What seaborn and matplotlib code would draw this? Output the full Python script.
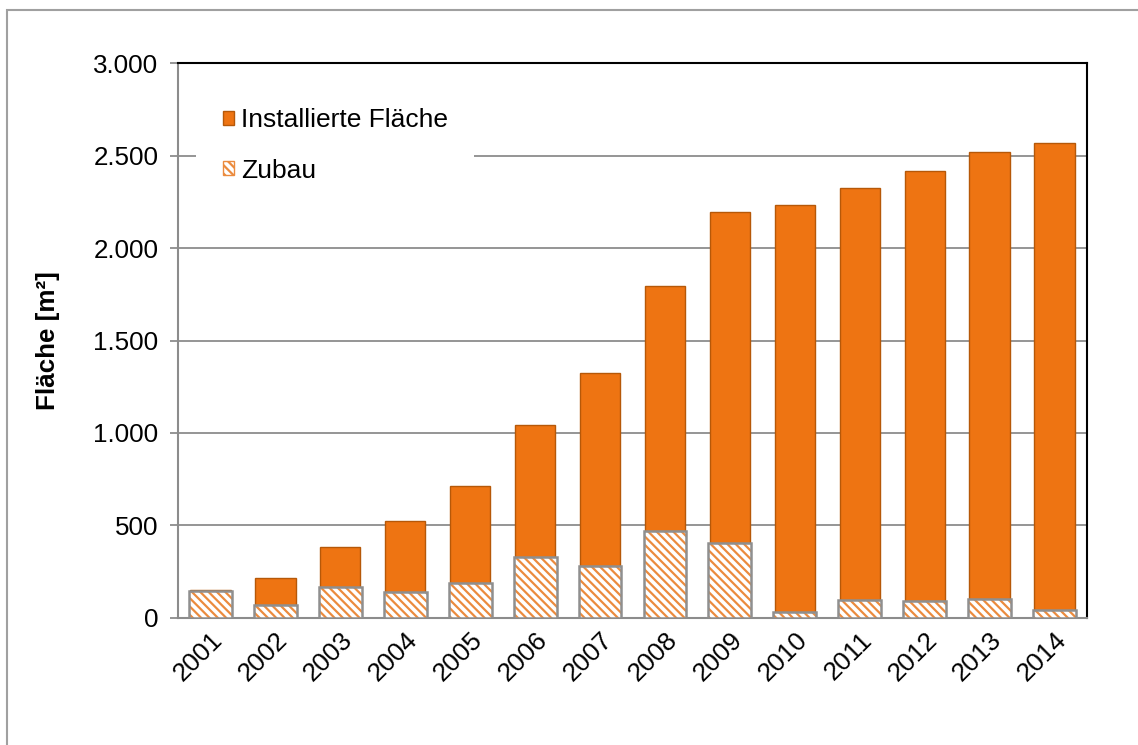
import numpy as np
import pandas as pd
import seaborn as sns
import matplotlib
import matplotlib.pyplot as plt
from matplotlib.patches import Patch, Rectangle
from matplotlib.ticker import FuncFormatter, MultipleLocator

# data
jahre = ['2001', '2002', '2003', '2004', '2005', '2006', '2007',
         '2008', '2009', '2010', '2011', '2012', '2013', '2014']
installiert = [150, 215, 383, 525, 715, 1045, 1325,
               1795, 2195, 2230, 2325, 2415, 2520, 2565]
zubau = [148, 72, 170, 140, 190, 330, 280,
         470, 405, 35, 95, 90, 105, 45]

df = pd.DataFrame({'Jahr': jahre, 'Installiert': installiert, 'Zubau': zubau})

sns.set_style('white')
plt.rcParams['font.family'] = ['Liberation Sans', 'DejaVu Sans']
plt.rcParams['hatch.linewidth'] = 1.6
plt.rcParams['text.color'] = 'black'
plt.rcParams['axes.labelcolor'] = 'black'
plt.rcParams['xtick.labelcolor'] = 'black'
plt.rcParams['ytick.labelcolor'] = 'black'

orange = '#EE7412'
hatch_orange = '#EB8B3E'
grau = '#8C8C8C'
fs = 18.7

fig = plt.figure(figsize=(11.38, 7.45), dpi=100)
ax = fig.add_axes([0.1564, 0.1705, 0.7988, 0.7449])

# installed area
sns.barplot(data=df, x='Jahr', y='Installiert', color=orange, width=0.62,
            saturation=1, edgecolor='#B65808', linewidth=1.0, ax=ax, zorder=3)

# additions: hatched fill, then grey outline on top
sns.barplot(data=df, x='Jahr', y='Zubau', color='white', width=0.66,
            saturation=1, edgecolor=hatch_orange, linewidth=0, hatch='\\\\\\\\',
            ax=ax, zorder=4)
sns.barplot(data=df, x='Jahr', y='Zubau', fill=False, width=0.66,
            edgecolor='#8F8F8F', linewidth=1.8, ax=ax, zorder=5)

ax.set_xlim(-0.5, len(jahre) - 0.5)
ax.set_ylim(0, 3000)
ax.yaxis.set_major_locator(MultipleLocator(500))
ax.yaxis.set_major_formatter(FuncFormatter(lambda v, p: f'{int(v):,}'.replace(',', '.')))
ax.grid(axis='y', color=grau, linewidth=1.3, zorder=0)
ax.set_axisbelow(True)

# ticks between the categories
ax.set_xticks(np.arange(-0.5, len(jahre)), minor=True)
ax.tick_params(axis='x', which='minor', length=6, width=1.3, color=grau, direction='out')
ax.tick_params(axis='x', which='major', length=0, labelsize=fs, pad=7, labelcolor='black')
ax.tick_params(axis='y', length=6, width=1.3, color=grau, direction='out',
               labelsize=fs, pad=8, left=True, labelcolor='black')
plt.setp(ax.get_xticklabels(), rotation=45, ha='right', rotation_mode='anchor')

for s in ['left', 'bottom']:
    ax.spines[s].set_color(grau)
    ax.spines[s].set_linewidth(1.5)
for s in ['top', 'right']:
    ax.spines[s].set_color('black')
    ax.spines[s].set_linewidth(1.5)

ax.set_xlabel('')
ax.set_ylabel('Fläche [m²]', fontsize=fs, fontweight='bold', labelpad=24, color='black')

handles = [Patch(facecolor=orange, edgecolor='#B65808', label='Installierte Fläche'),
           Patch(facecolor='white', edgecolor=hatch_orange, hatch='\\\\\\\\', label='Zubau')]
leg = ax.legend(handles=handles, loc='upper left', bbox_to_anchor=(0.02, 0.966),
                frameon=True, framealpha=1, edgecolor='white', fontsize=19,
                handlelength=0.45, handleheight=0.45, handletextpad=0.25,
                labelspacing=1.0, borderpad=1.0, borderaxespad=0.0, fancybox=False)
leg.get_frame().set_linewidth(0)
leg.set_zorder(6)
for t in leg.get_texts():
    t.set_color('black')

# outer border of the chart area
fig.patches.append(Rectangle((0.006, -0.05), 1.2, 1.0366, transform=fig.transFigure,
                             fill=False, edgecolor='#A0A0A0', linewidth=1.5))

fig.savefig('out.png', dpi=100)
